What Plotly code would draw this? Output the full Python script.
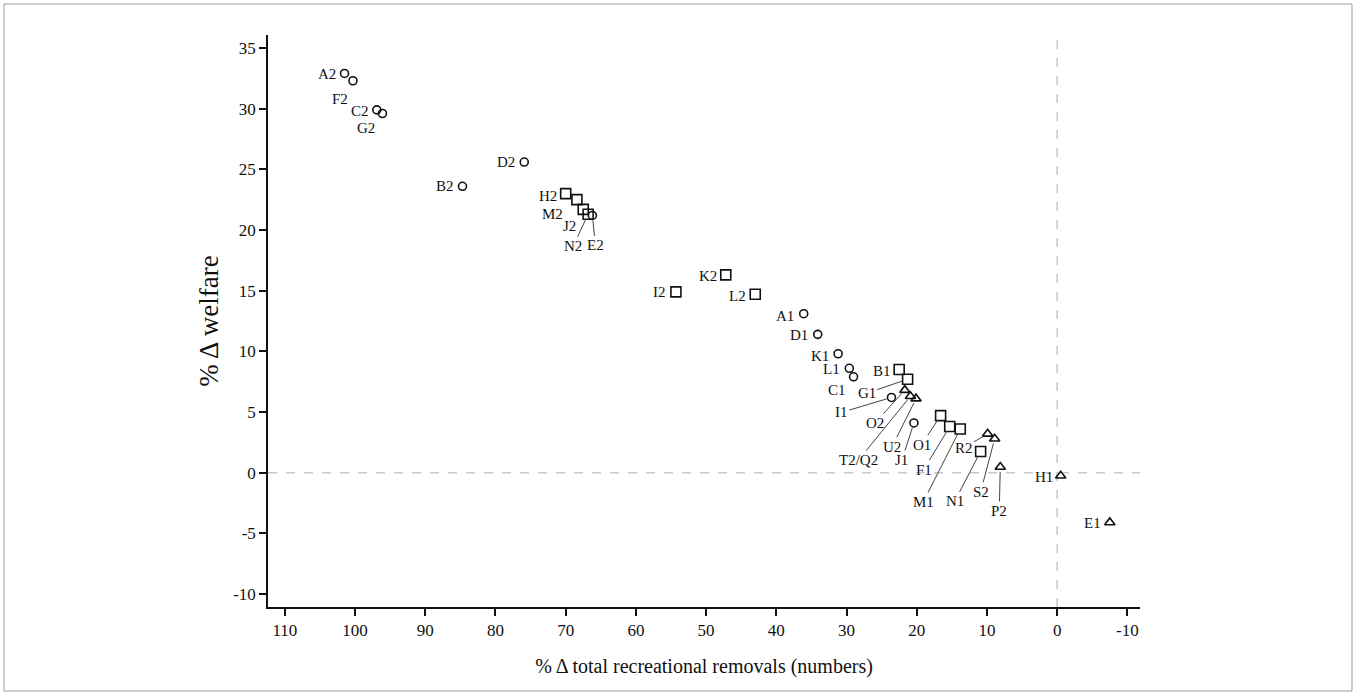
import plotly.graph_objects as go

# ---- data ----
names = ["A2", "F2", "C2", "G2", "B2", "D2", "H2", "M2", "J2", "N2", "E2",
         "K2", "I2", "L2", "A1", "D1", "K1", "L1", "C1", "B1", "G1", "I1",
         "O2", "T2/Q2", "U2", "J1", "O1", "F1", "M1", "R2", "S2", "N1", "P2",
         "H1", "E1"]
removals = [101.5, 100.3, 96.9, 96.1, 84.7, 75.9, 70.0, 68.4, 67.5, 66.8, 66.2,
            47.2, 54.3, 43.0, 36.1, 34.1, 31.2, 29.6, 29.0, 22.5, 21.3, 23.6,
            21.7, 20.9, 20.1, 20.4, 16.6, 15.3, 13.8, 9.9, 8.9, 10.9, 8.1,
            -0.5, -7.5]
welfare = [32.9, 32.3, 29.9, 29.6, 23.6, 25.6, 23.0, 22.5, 21.7, 21.3, 21.2,
           16.3, 14.9, 14.7, 13.1, 11.4, 9.8, 8.6, 7.9, 8.5, 7.7, 6.2,
           6.8, 6.3, 6.1, 4.1, 4.7, 3.8, 3.6, 3.2, 2.8, 1.75, 0.47,
           -0.25, -4.1]
groups = ["circle", "circle", "circle", "circle", "circle", "circle", "square", "square", "square", "square", "circle",
          "square", "square", "square", "circle", "circle", "circle", "circle", "circle", "square", "square", "circle",
          "triangle", "triangle", "triangle", "circle", "square", "square", "square", "triangle", "triangle", "square", "triangle",
          "triangle", "triangle"]

x_ticks = [110, 100, 90, 80, 70, 60, 50, 40, 30, 20, 10, 0, -10]
y_ticks = [35, 30, 25, 20, 15, 10, 5, 0, -5, -10]

# ---- label placement (pixel offsets: dx, dy (down +), leader line) ----
label_pos = {
    "A2": (-18, 1, False), "F2": (-13, 18, False), "C2": (-17, 1, False),
    "G2": (-16, 14, False), "B2": (-17, 0, False), "D2": (-18, 0, False),
    "H2": (-18, 2, False), "M2": (-24, 14, False), "J2": (-14, 17, False),
    "N2": (-15, 32, True), "E2": (3, 30, True), "K2": (-18, 1, False),
    "I2": (-16, 0, False), "L2": (-18, 2, False), "A1": (-19, 2, False),
    "D1": (-19, 1, False), "K1": (-18, 2, False), "L1": (-18, 1, False),
    "C1": (-17, 13, False), "B1": (-17, 1, False), "G1": (-41, 14, True),
    "I1": (-50, 15, True), "O2": (-30, 33, True), "T2/Q2": (-52, 64, True),
    "U2": (-24, 48, True), "J1": (-12, 37, True), "O1": (-19, 29, True),
    "F1": (-26, 43, True), "M1": (-37, 73, True), "R2": (-24, 14, True),
    "S2": (-14, 53, True), "N1": (-26, 50, True), "P2": (-1, 44, True),
    "H1": (-17, 1, False), "E1": (-17, 1, False),
}

SERIF = "Liberation Serif"
INK = "#111111"

symbol_map = {"circle": "circle-open", "square": "square-open", "triangle": "triangle-up-open"}
size_map = {"circle": 8, "square": 10, "triangle": 9}

fig = go.Figure()
for g in ["circle", "square", "triangle"]:
    idx = [i for i, s in enumerate(groups) if s == g]
    fig.add_trace(go.Scatter(
        x=[removals[i] for i in idx], y=[welfare[i] for i in idx],
        mode="markers", name=g, showlegend=False,
        marker=dict(symbol=symbol_map[g], size=size_map[g], color=INK,
                    line=dict(color=INK, width=1.6)),
        hoverinfo="text", text=[names[i] for i in idx],
    ))

annotations = []
for n, xv, yv in zip(names, removals, welfare):
    dx, dy, line = label_pos[n]
    if line:
        annotations.append(dict(x=xv, y=yv, xref="x", yref="y", text=n,
                                showarrow=True, arrowhead=0, arrowwidth=1,
                                arrowcolor="#444", ax=dx, ay=dy, standoff=5,
                                font=dict(family=SERIF, size=15, color=INK)))
    else:
        annotations.append(dict(x=xv, y=yv, xref="x", yref="y", text=n,
                                showarrow=False, xshift=dx, yshift=-dy,
                                font=dict(family=SERIF, size=15, color=INK)))

shapes = [
    dict(type="line", xref="paper", yref="y", x0=0, x1=1, y0=0, y1=0,
         line=dict(color="#c8c8c8", width=1.5, dash="dash"), layer="below"),
    dict(type="line", xref="x", yref="paper", x0=0, x1=0, y0=0, y1=1,
         line=dict(color="#c8c8c8", width=1.5, dash="dash"), layer="below"),
    dict(type="rect", xref="paper", yref="paper", x0=-0.3028, x1=1.2431,
         y0=-0.1469, y1=1.0542, line=dict(color="#9a9a9a", width=1)),
]

fig.update_layout(
    width=1357, height=696,
    margin=dict(l=268, r=217, t=35, b=89),
    paper_bgcolor="white", plot_bgcolor="white",
    annotations=annotations, shapes=shapes,
    font=dict(family=SERIF, color=INK),
)
fig.update_xaxes(
    range=[112.4, -11.8], tickvals=x_ticks, ticktext=[str(v) for v in x_ticks],
    showline=True, linecolor=INK, linewidth=1.5, ticks="outside", ticklen=7,
    tickwidth=1.5, tickcolor=INK, showgrid=False, zeroline=False,
    tickfont=dict(family=SERIF, size=17, color=INK),
    title=dict(text="% \u0394 total recreational removals (numbers)",
               font=dict(family=SERIF, size=20, color=INK), standoff=20),
)
fig.update_yaxes(
    range=[-11.07, 36.07], tickvals=y_ticks, ticktext=[str(v) for v in y_ticks],
    showline=True, linecolor=INK, linewidth=1.5, ticks="outside", ticklen=7,
    tickwidth=1.5, tickcolor=INK, showgrid=False, zeroline=False,
    tickfont=dict(family=SERIF, size=17, color=INK),
    title=dict(text="% \u0394 welfare", font=dict(family=SERIF, size=27, color=INK),
               standoff=7),
)

fig.write_html("out.html")
